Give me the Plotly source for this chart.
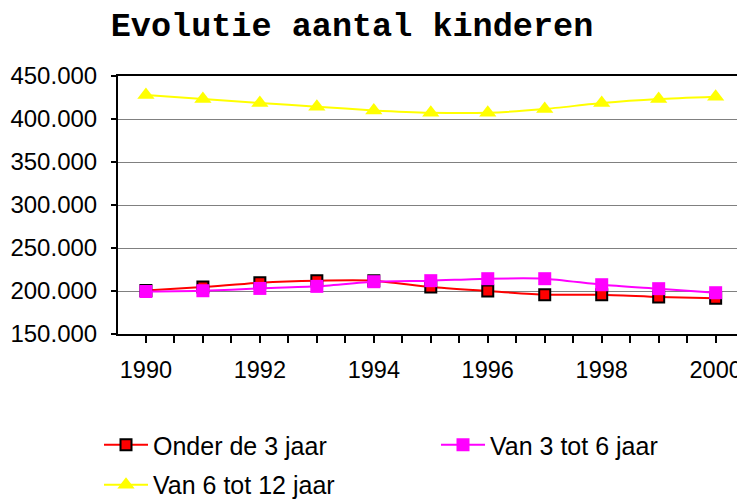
import plotly.graph_objects as go

years = [1990, 1991, 1992, 1993, 1994, 1995, 1996, 1997, 1998, 1999, 2000]
onder_3 = [200700, 204600, 209700, 212000, 212000, 204600, 200000, 195700, 195700, 193000, 191500]
van_3_6 = [199400, 200300, 203000, 205400, 210800, 212000, 214300, 214300, 207300, 202700, 198000]
van_6_12 = [427900, 423300, 418600, 414300, 410000, 407300, 407300, 411600, 418600, 423300, 426000]
names = ["Onder de 3 jaar", "Van 3 tot 6 jaar", "Van 6 tot 12 jaar"]
y_ticks = [150000, 200000, 250000, 300000, 350000, 400000, 450000]

fig = go.Figure()
fig.add_trace(go.Scatter(x=years, y=onder_3, name=names[0], mode="lines+markers", legend="legend",
                         line=dict(color="#ff0000", width=2, shape="spline", smoothing=0.6),
                         marker=dict(symbol="square", size=11, color="#ff0000",
                                     line=dict(color="black", width=2))))
fig.add_trace(go.Scatter(x=years, y=van_3_6, name=names[1], mode="lines+markers", legend="legend",
                         line=dict(color="#ff00ff", width=2, shape="spline", smoothing=0.6),
                         marker=dict(symbol="square", size=13, color="#ff00ff")))
fig.add_trace(go.Scatter(x=years, y=van_6_12, name=names[2], mode="lines+markers", legend="legend2",
                         line=dict(color="#ffff00", width=2, shape="spline", smoothing=0.6),
                         marker=dict(symbol="triangle-up", size=15, color="#ffff00")))

half_ticks = [1990 + 0.5 * i for i in range(21)]
half_text = [str(int(v)) if (v == int(v) and int(v) % 2 == 0) else "" for v in half_ticks]

legend_common = dict(orientation="h", xref="paper", yref="paper", yanchor="top", xanchor="left",
                     font=dict(size=25, family="Liberation Sans"), itemwidth=44,
                     tracegroupgap=0, bgcolor="rgba(0,0,0,0)")

fig.update_layout(
    width=737, height=492,
    margin=dict(l=110, r=1.5, t=68, b=166, autoexpand=False),
    paper_bgcolor="white", plot_bgcolor="white",
    separators=",.",
    title=dict(text="<b>Evolutie aantal kinderen</b>", x=344 / 737, xanchor="center",
               y=1 - 16 / 492, yanchor="middle",
               font=dict(family="Liberation Mono", size=33.5, color="black")),
    font=dict(family="Liberation Sans", color="black"),
    showlegend=True,
    legend=dict(x=-0.0304, y=-0.3411, entrywidth=278, entrywidthmode="pixels", **legend_common),
    legend2=dict(x=-0.0304, y=-0.4961, **legend_common),
)
fig.update_xaxes(range=[1989.51, 2000.48], tickmode="array", tickvals=half_ticks, ticktext=half_text,
                 ticks="outside", ticklen=7, tickwidth=1.5, tickcolor="black",
                 showline=True, linecolor="black", linewidth=2, mirror=True,
                 showgrid=False, zeroline=False, tickfont=dict(size=23.5),
                 ticklabelstandoff=7, automargin=False)
fig.update_yaxes(range=[150000, 450000], tickmode="array", tickvals=y_ticks,
                 tickformat=",.0f",
                 ticks="outside", ticklen=5, tickwidth=1.5, tickcolor="black",
                 showline=True, linecolor="black", linewidth=2, mirror=True,
                 showgrid=True, gridcolor="#808080", gridwidth=1, zeroline=False,
                 tickfont=dict(size=24), ticklabelstandoff=9, automargin=False)

fig.write_html("out.html")
